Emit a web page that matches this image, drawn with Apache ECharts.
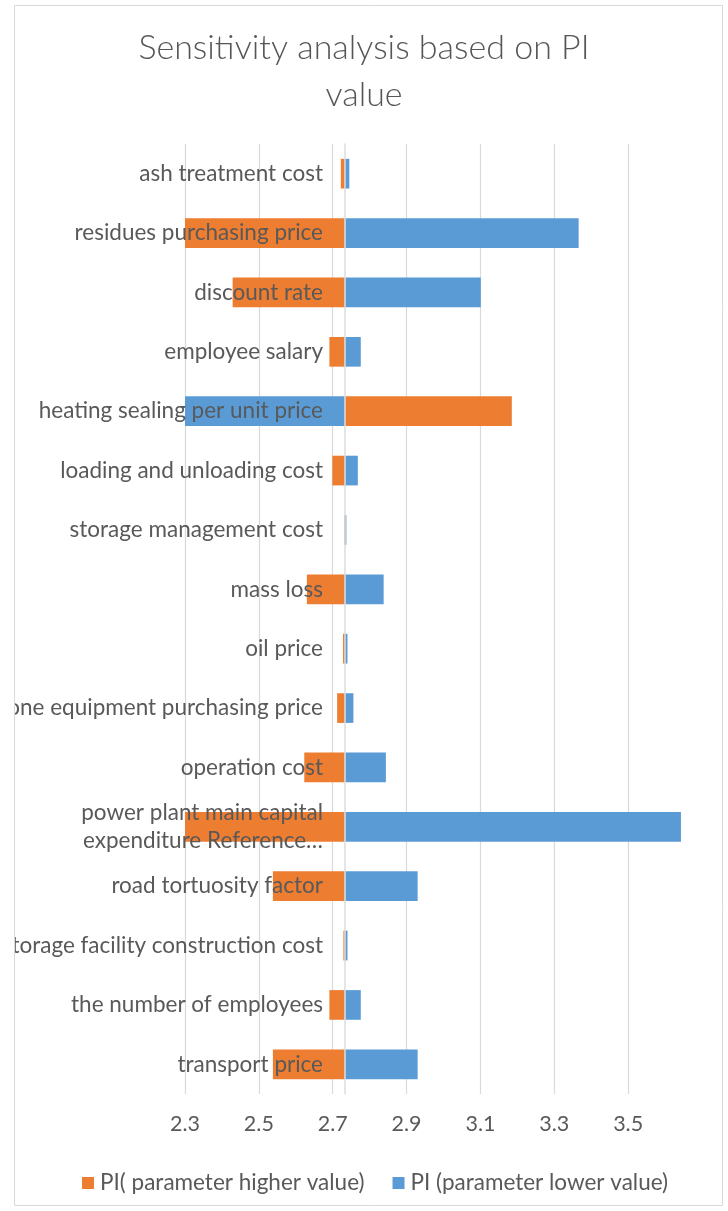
<!DOCTYPE html>
<html>
<head>
<meta charset="utf-8">
<script src="https://cdn.jsdelivr.net/npm/echarts@6/dist/echarts.min.js"></script>
<style>
html,body{margin:0;padding:0;background:#fff;}
#chart{width:728px;height:1211px;}
</style>
</head>
<body>
<div id="chart"></div>
<script>
// ---- data ----
var categories = [
  'ash treatment cost',
  'residues purchasing price',
  'discount rate',
  'employee salary',
  'heating sealing per unit price',
  'loading and unloading cost',
  'storage management cost',
  'mass loss',
  'oil price',
  'ozone equipment purchasing price',
  'operation cost',
  'power plant main capital\nexpenditure Reference…',
  'road tortuosity factor',
  'storage facility construction cost',
  'the number of employees',
  'transport price'
];
var piHigher = [2.722, 2.10, 2.429, 2.691, 3.185, 2.699, 2.731, 2.630, 2.728, 2.712, 2.623, 2.05, 2.538, 2.729, 2.691, 2.538];
var piLower  = [2.745, 3.366, 3.101, 2.776, 2.25, 2.768, 2.737, 2.838, 2.740, 2.756, 2.844, 3.643, 2.930, 2.740, 2.776, 2.930];
var baseValue = 2.733;
var xTicks = {min: 2.3, max: 3.7, interval: 0.2};
var seriesNames = ['PI( parameter higher value)', 'PI (parameter lower value)'];

// ---- derived for tornado (bars from base value) ----
function helper(arr){ return arr.map(function(v){ return Math.min(v, baseValue); }); }
function span(arr){ return arr.map(function(v){ return +Math.abs(v - baseValue).toFixed(4); }); }

var FONT = 'Lato';
var TXT = '#595959';
var chart = echarts.init(document.getElementById('chart'), null, {renderer: 'canvas'});
chart.setOption({
  animation: false,
  backgroundColor: '#ffffff',
  title: {
    text: 'Sensitivity analysis based on PI\nvalue',
    left: 'center',
    top: 20,
    textStyle: {fontFamily: FONT, fontSize: 34, fontWeight: 300, color: '#555555', lineHeight: 47}
  },
  legend: {
    data: seriesNames,
    left: 77,
    top: 1165,
    width: 640,
    itemWidth: 12,
    itemHeight: 12,
    itemGap: 28,
    icon: 'rect',
    textStyle: {fontFamily: FONT, fontSize: 22.5, color: TXT, lineHeight: 26, padding: [0,0,0,1]}
  },
  grid: {left: 185, right: 26, top: 144, bottom: 117, containLabel: false, outerBoundsMode: 'none'},
  xAxis: {
    type: 'value',
    min: xTicks.min, max: xTicks.max, interval: xTicks.interval,
    axisLine: {show: false},
    axisTick: {show: false},
    axisLabel: {
      fontFamily: FONT, fontSize: 21.5, color: TXT, margin: 19, showMaxLabel: false,
      formatter: function(v){ return v.toFixed(1); }
    },
    splitLine: {show: true, showMaxLine: false, lineStyle: {color: '#d9d9d9', width: 1.2}}
  },
  yAxis: {
    type: 'category',
    inverse: true,
    data: categories,
    offset: -160,
    z: 10,
    axisLine: {show: true, lineStyle: {color: '#dcdcdc', width: 1.5}},
    axisTick: {show: false},
    axisLabel: {fontFamily: FONT, fontSize: 22.5, color: TXT, margin: 22, interval: 0, lineHeight: 28.5}
  },
  series: [
    {type: 'bar', name: 'hiBase', stack: 'hi', data: helper(piHigher), barWidth: '50%', barGap: '-100%',
     itemStyle: {color: 'transparent'}, silent: true, legendHoverLink: false},
    {type: 'bar', name: seriesNames[0], stack: 'hi', data: span(piHigher), barWidth: '50%', barGap: '-100%',
     itemStyle: {color: '#ED7D31'}},
    {type: 'bar', name: 'loBase', stack: 'lo', data: helper(piLower), barWidth: '50%', barGap: '-100%',
     itemStyle: {color: 'transparent'}, silent: true, legendHoverLink: false},
    {type: 'bar', name: seriesNames[1], stack: 'lo', data: span(piLower), barWidth: '50%', barGap: '-100%',
     itemStyle: {color: '#5B9BD5'}}
  ],
  graphic: [
    {type: 'rect', z: 100, shape: {x: 0, y: 0, width: 14, height: 1211}, style: {fill: '#ffffff'}},
    {type: 'rect', z: 101, shape: {x: 14.5, y: 5.5, width: 708, height: 1200}, style: {fill: 'none', stroke: '#d9d9d9', lineWidth: 1}}
  ]
});
</script>
</body>
</html>
